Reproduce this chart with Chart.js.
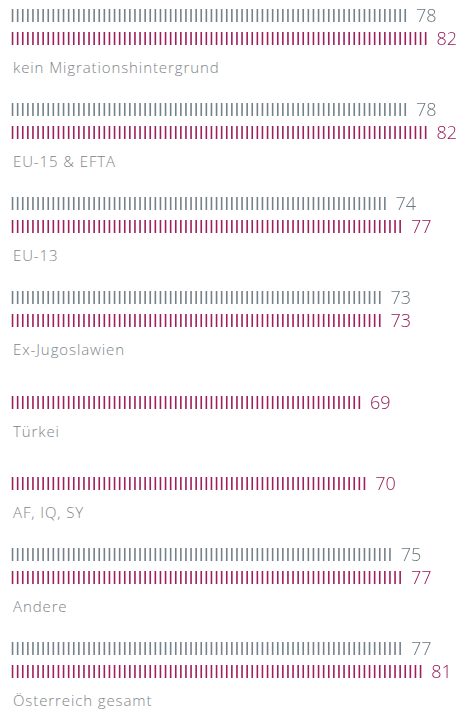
<!DOCTYPE html>
<html>
<head>
<meta charset="utf-8">
<script src="https://cdn.jsdelivr.net/npm/chart.js@4.4.1/dist/chart.umd.min.js"></script>
<style>
  html, body { margin: 0; padding: 0; background: #ffffff; }
  #wrap { width: 463px; padding-top: 4px; }
  .grp { margin-bottom: 21px; }
  .grp.single { padding-top: 10.5px; }
  .cv { position: relative; width: 463px; }
  .lbl {
    margin-top: 7px; margin-left: 13px; height: 20px; line-height: 20px;
    font-family: "Open Sans", sans-serif; font-weight: 300; font-size: 15px;
    letter-spacing: 0.9px; color: #7e8487; white-space: nowrap;
  }
</style>
</head>
<body>
<div id="wrap"></div>
<script>
const categories = ['kein Migrationshintergrund', 'EU-15 & EFTA', 'EU-13', 'Ex-Jugoslawien', 'Türkei', 'AF, IQ, SY', 'Andere', 'Österreich gesamt'];
const seriesNames = ['Männer', 'Frauen'];
const maleValues = [78, 78, 74, 73, null, null, 75, 77];
const femaleValues = [82, 82, 77, 73, 69, 70, 77, 81];

const X_MAX = 88;
const ROW_H = 23;
const BAR_T = 13;
const tickColors = ['#75818a', '#9e1f5d'];
const textColors = ['#6c787f', '#971b57'];

function stripePattern(chart, color) {
  const xs = chart.scales && chart.scales.x;
  if (!xs) return color;
  const x0 = xs.getPixelForValue(0);
  const step = xs.getPixelForValue(1) - x0;
  if (!isFinite(step) || step <= 0) return color;
  const n = 20;
  const w = Math.round(step * n);
  if (w < 1) return color;
  const c = document.createElement('canvas');
  c.width = w; c.height = 20;
  const g = c.getContext('2d');
  g.fillStyle = color;
  const pitch = w / n;
  for (let i = 0; i < n; i++) {
    const cx = (i + 0.5) * pitch;
    g.fillRect(cx - 0.8, 0, 1.6, 20);
  }
  const p = g.createPattern(c, 'repeat');
  p.setTransform(new DOMMatrix([1, 0, 0, 1, x0, 0]));
  return p;
}

const valueLabels = {
  id: 'valueLabels',
  afterDatasetsDraw(chart) {
    const ctx = chart.ctx;
    ctx.save();
    ctx.font = '300 18px "Open Sans", sans-serif';
    ctx.textBaseline = 'middle';
    ctx.textAlign = 'left';
    chart.data.datasets.forEach((ds, di) => {
      const meta = chart.getDatasetMeta(di);
      meta.data.forEach((el, i) => {
        const v = ds.data[i];
        if (v === null || v === undefined) return;
        ctx.fillStyle = textColors[di];
        ctx.fillText(String(v), el.x + 8, el.y + 1);
      });
    });
    ctx.restore();
  }
};

const wrap = document.getElementById('wrap');
categories.forEach((cat, i) => {
  const vals = [maleValues[i], femaleValues[i]];
  const nBars = vals.filter(v => v !== null).length;
  const grp = document.createElement('div');
  grp.className = 'grp' + (nBars === 1 ? ' single' : '');
  const cv = document.createElement('div');
  cv.className = 'cv';
  cv.style.height = (nBars * ROW_H) + 'px';
  const canvas = document.createElement('canvas');
  cv.appendChild(canvas);
  const lbl = document.createElement('div');
  lbl.className = 'lbl';
  lbl.textContent = cat;
  grp.appendChild(cv);
  grp.appendChild(lbl);
  wrap.appendChild(grp);

  new Chart(canvas, {
    type: 'bar',
    data: {
      labels: [cat],
      datasets: seriesNames.map((name, di) => ({
        label: name,
        data: [vals[di]],
        backgroundColor: (ctx) => stripePattern(ctx.chart, tickColors[di]),
        borderWidth: 0,
        skipNull: true
      }))
    },
    options: {
      indexAxis: 'y',
      responsive: true,
      maintainAspectRatio: false,
      animation: false,
      layout: { padding: { left: 10, right: 4, top: 0, bottom: 0 } },
      plugins: { legend: { display: false }, tooltip: { enabled: false } },
      datasets: { bar: { categoryPercentage: 1, barPercentage: BAR_T / ROW_H } },
      scales: {
        x: { type: 'linear', min: 0, max: X_MAX, display: false, grid: { display: false } },
        y: { display: false, grid: { display: false } }
      }
    },
    plugins: [valueLabels]
  });
});
</script>
</body>
</html>
